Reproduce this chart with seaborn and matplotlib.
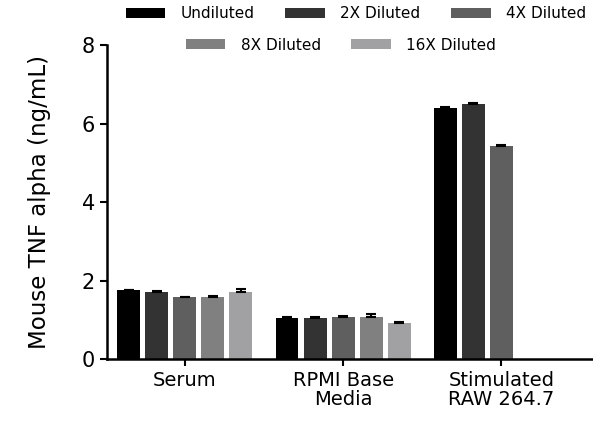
import numpy as np
import pandas as pd
import matplotlib
matplotlib.use("Agg")
import matplotlib.pyplot as plt
import seaborn as sns
from matplotlib.patches import Patch

categories = ["Serum", "RPMI Base\nMedia", "Stimulated\nRAW 264.7"]
dilutions = ["Undiluted", "2X Diluted", "4X Diluted", "8X Diluted", "16X Diluted"]
values = {
    "Undiluted":   [1.76, 1.04, 6.40],
    "2X Diluted":  [1.70, 1.05, 6.50],
    "4X Diluted":  [1.58, 1.07, 5.43],
    "8X Diluted":  [1.58, 1.08, np.nan],
    "16X Diluted": [1.71, 0.92, np.nan],
}
errors = {
    "Undiluted":   [0.01, 0.02, 0.02],
    "2X Diluted":  [0.03, 0.03, 0.02],
    "4X Diluted":  [0.01, 0.03, 0.02],
    "8X Diluted":  [0.03, 0.07, np.nan],
    "16X Diluted": [0.08, 0.03, np.nan],
}
colors = ["#000000", "#333333", "#5f5f5f", "#808080", "#a1a1a4"]

rows = []
for d in dilutions:
    for c, v, e in zip(categories, values[d], errors[d]):
        rows.append({"Sample": c, "Dilution": d, "Value": v, "Err": e})
df = pd.DataFrame(rows)

sns.set_style("ticks", {"axes.edgecolor": "black", "text.color": "black",
                        "xtick.color": "black", "ytick.color": "black",
                        "axes.labelcolor": "black"})
plt.rcParams["font.family"] = ["DejaVu Sans"]

fig = plt.figure(figsize=(5.93, 4.29), dpi=100)
ax = fig.add_axes([0.180, 0.163, 0.82, 0.732])

sns.barplot(data=df, x="Sample", y="Value", hue="Dilution", order=categories,
            hue_order=dilutions, palette=colors, errorbar=None, width=0.886,
            gap=0.18, saturation=1, ax=ax, legend=False, edgecolor="none")

# error bars (upper only) at bar centers
for i, d in enumerate(dilutions):
    cont = ax.containers[i]
    for j, patch in enumerate(cont.patches):
        v = values[d][j]
        e = errors[d][j]
        if np.isnan(v):
            continue
        xc = patch.get_x() + patch.get_width() / 2
        ax.errorbar(xc, v, yerr=[[0], [e]], fmt="none", ecolor="black",
                    elinewidth=1.5, capsize=3.5, capthick=1.5)

ax.set_ylim(0, 8)
ax.set_xlim(-0.494, 2.58)
ax.set_yticks([0, 2, 4, 6, 8])
ax.set_xlabel("")
ax.set_ylabel("Mouse TNF alpha (ng/mL)", fontsize=16.5, labelpad=22, color="black")
ax.tick_params(axis="y", labelsize=15, width=1.5, length=5, direction="out", colors="black")
ax.tick_params(axis="x", labelsize=14, width=1.5, length=5, direction="out", colors="black")
for lbl in ax.get_xticklabels():
    lbl.set_linespacing(1.0)
for s in ["left", "bottom"]:
    ax.spines[s].set_linewidth(1.8)
    ax.spines[s].set_color("black")
for s in ["top", "right"]:
    ax.spines[s].set_visible(False)

handles = [Patch(facecolor=c, edgecolor="none", label=d) for c, d in zip(colors, dilutions)]
fig.legend(handles=handles[:3], loc="center", bbox_to_anchor=(0.60, 1 - 14 / 429),
           ncol=3, frameon=False, fontsize=11, handlelength=2.6, handleheight=0.6,
           columnspacing=2.0, handletextpad=1.0, labelcolor="black")
fig.legend(handles=handles[3:], loc="center", bbox_to_anchor=(0.575, 1 - 45 / 429),
           ncol=2, frameon=False, fontsize=11, handlelength=2.6, handleheight=0.6,
           columnspacing=2.0, handletextpad=1.0, labelcolor="black")

fig.savefig("out.png", dpi=100)
